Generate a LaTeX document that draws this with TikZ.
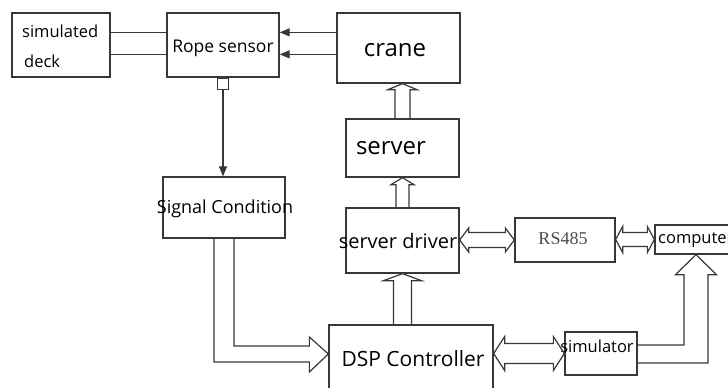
\documentclass[tikz,border=0pt]{standalone}
\usepackage{fontspec}
\setmainfont{Open Sans}
\newfontfamily\rsfont{Liberation Serif}
\usetikzlibrary{calc,arrows.meta}
\tikzset{
  box/.style={draw=black!78, line width=1.3pt, rectangle, inner sep=0pt},
  conn/.style={draw=black!78, line width=1.2pt, line join=miter},
  txt/.style={text=black, inner sep=0pt},
  sq/.style={draw=black!78, line width=1.2pt, fill=white, minimum size=11pt, inner sep=0pt},
  tip/.style={-{Triangle[length=10pt,width=8pt]}},
}
\newcommand\hollowup[5]{% start, tip, shaft half, head half, head length
  \draw[conn] let \p1=(#1), \p2=(#2) in
    (\x1-#3pt,\y1) -- (\x1-#3pt,\y2-#5pt) -- (\x1-#4pt,\y2-#5pt) -- (\x1,\y2)
    -- (\x1+#4pt,\y2-#5pt) -- (\x1+#3pt,\y2-#5pt) -- (\x1+#3pt,\y1);}
\newcommand\hollowlr[5]{% left tip, right tip, shaft half, head half, head length
  \draw[conn] let \p1=(#1), \p2=(#2) in
    (\x1,\y2) -- (\x1+#5pt,\y2+#4pt) -- (\x1+#5pt,\y2+#3pt) -- (\x2-#5pt,\y2+#3pt)
    -- (\x2-#5pt,\y2+#4pt) -- (\x2,\y2) -- (\x2-#5pt,\y2-#4pt) -- (\x2-#5pt,\y2-#3pt)
    -- (\x1+#5pt,\y2-#3pt) -- (\x1+#5pt,\y2-#4pt) -- cycle;}
\begin{document}
\begin{tikzpicture}[x=1pt,y=-1pt]
\useasboundingbox (0,0) rectangle (728,388);
\fill[white] (0,0) rectangle (728,388);
% boxes
\node[box, minimum width=98pt, minimum height=64pt] (deck) at (61,45) {};
\node[box, minimum width=112pt, minimum height=64pt] (rope) at (223,45) {};
\node[box, minimum width=123pt, minimum height=70pt] (crane) at (398.5,48) {};
\node[box, minimum width=113pt, minimum height=58pt] (server) at (402.5,148) {};
\node[box, minimum width=113pt, minimum height=65pt] (driver) at (402.5,240.5) {};
\node[box, minimum width=122pt, minimum height=61pt] (signal) at (224,207.5) {};
\node[box, minimum width=164pt, minimum height=65pt] (dsp) at (411,357.5) {};
\node[box, minimum width=100pt, minimum height=44pt] (rs) at (565,240) {};
\node[box, minimum width=82pt, minimum height=29pt] (comp) at (696,239.5) {};
\node[box, minimum width=72pt, minimum height=43pt] (sim) at (601,353.5) {};
% texts
\node[txt, anchor=base west, font=\fontsize{16.5}{18}\selectfont] (tdeck1) at (22,37) {simulated};
\node[txt, anchor=base west, font=\fontsize{16.5}{18}\selectfont] (tdeck2) at (24,67) {deck};
\node[txt, anchor=base, font=\fontsize{17.5}{20}\selectfont] (trope) at (223,52) {Rope sensor};
\node[txt, anchor=base, font=\fontsize{24}{28}\selectfont] (tcrane) at (395,56) {crane};
\node[txt, anchor=base, font=\fontsize{24}{28}\selectfont] (tserver) at (391,154) {server};
\node[txt, anchor=base, font=\fontsize{20}{24}\selectfont] (tdriver) at (398,248) {server driver};
\node[txt, anchor=base, font=\fontsize{18}{21}\selectfont] (tsignal) at (225,213) {Signal Condition};
\node[txt, anchor=base, font=\fontsize{21}{24}\selectfont] (tdsp) at (413,366) {DSP Controller};
\node[txt, anchor=base, text=black!70, font=\rsfont\fontsize{18}{21}\selectfont] (trs) at (563,244) {RS485};
\node[txt, anchor=base west, font=\fontsize{16.5}{18}\selectfont] (tcomp) at (658,243) {computer};
\node[txt, anchor=base, font=\fontsize{16.5}{18}\selectfont] (tsim) at (597,352) {simulator};
% deck -- rope
\draw[conn] ($(deck.north east)+(0,20)$) -- ($(rope.north west)+(0,20)$);
\draw[conn] ($(deck.north east)+(0,42)$) -- ($(rope.north west)+(0,42)$);
% crane -> rope
\draw[conn, tip] ($(crane.north west)+(0,20)$) -- ($(rope.north east)+(0,20)$);
\draw[conn, tip] ($(crane.north west)+(0,42)$) -- ($(rope.north east)+(0,42)$);
% rope -> signal
\node[sq, anchor=north] (port) at (rope.south) {};
\draw[conn, tip] (port.south) -- (port.south |- signal.north);
% signal -> dsp
\draw[conn] let \p1=(signal.south), \p2=($(dsp.west)+(0,-3.5)$) in
  (\x1+10pt,\y1) -- (\x1+10pt,\y2+8pt) -- (\x2-19pt,\y2+8pt) -- (\x2-19pt,\y2+17pt) -- (\x2,\y2)
  -- (\x2-19pt,\y2-18pt) -- (\x2-19pt,\y2-8pt) -- (\x1-10pt,\y2-8pt) -- (\x1-10pt,\y1);
% vertical hollow arrows
\hollowup{driver.south |- dsp.north}{driver.south}{9}{19}{7}
\hollowup{driver.north}{server.south}{6.5}{11.5}{7}
\hollowup{server.north}{server.north |- crane.south}{7.5}{14.5}{6}
% horizontal double arrows
\hollowlr{driver.east}{rs.west}{7.5}{12}{9}
\hollowlr{rs.east}{comp.west}{7}{13}{7}
\hollowlr{dsp.east |- sim.west}{sim.west}{10}{17}{11}
% simulator -> computer
\draw[conn] let \p1=(sim.east), \p2=(comp.south) in
  (\x1,\y1+8.5pt) -- (\x2-12pt,\y1+8.5pt) -- (\x2-12pt,\y2-20pt) -- (\x2-20.5pt,\y2-20pt) -- (\x2,\y2)
  -- (\x2+20.5pt,\y2-20pt) -- (\x2+12pt,\y2-20pt) -- (\x2+12pt,\y1-9.5pt) -- (\x1,\y1-9.5pt);
\end{tikzpicture}
\end{document}
